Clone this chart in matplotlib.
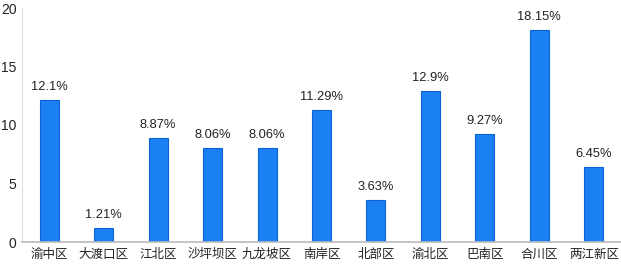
import matplotlib
matplotlib.use("Agg")
import matplotlib.pyplot as plt

plt.rcParams['font.family'] = ['Liberation Sans', 'Noto Sans CJK SC']

districts = ["渝中区", "大渡口区", "江北区", "沙坪坝区", "九龙坡区", "南岸区",
             "北部区", "渝北区", "巴南区", "合川区", "两江新区"]
values = [12.1, 1.21, 8.87, 8.06, 8.06, 11.29, 3.63, 12.9, 9.27, 18.15, 6.45]
labels = ["12.1%", "1.21%", "8.87%", "8.06%", "8.06%", "11.29%",
          "3.63%", "12.9%", "9.27%", "18.15%", "6.45%"]
yticks = [0, 5, 10, 15, 20]

fig = plt.figure(figsize=(6.21, 2.69), dpi=100)
ax = fig.add_axes([22 / 621, 27 / 269, 599 / 621, 234 / 269])

x = list(range(len(districts)))
ax.bar(x, values, width=0.35, color="#1b80f4", edgecolor="#0b62d6", linewidth=0.8, zorder=2)

for xi, v, lab in zip(x, values, labels):
    ax.text(xi, v + 0.6, lab, ha="center", va="bottom", fontsize=9.3, color="#222222")

ax.set_xlim(-0.5, len(districts) - 0.5)
ax.set_ylim(0, 20)
ax.set_yticks(yticks)
ax.set_xticks(x)
ax.set_xticklabels(districts, fontsize=9, color="#222222")
ax.tick_params(axis="y", length=0, labelsize=10, colors="#222222", pad=4)
ax.tick_params(axis="x", length=0, colors="#222222", pad=5)

for s in ["top", "right"]:
    ax.spines[s].set_visible(False)
ax.spines["left"].set_color("#dddddd")
ax.spines["bottom"].set_color("#bbbbbb")
ax.spines["bottom"].set_linewidth(1.2)

fig.savefig("out.png", dpi=100)
